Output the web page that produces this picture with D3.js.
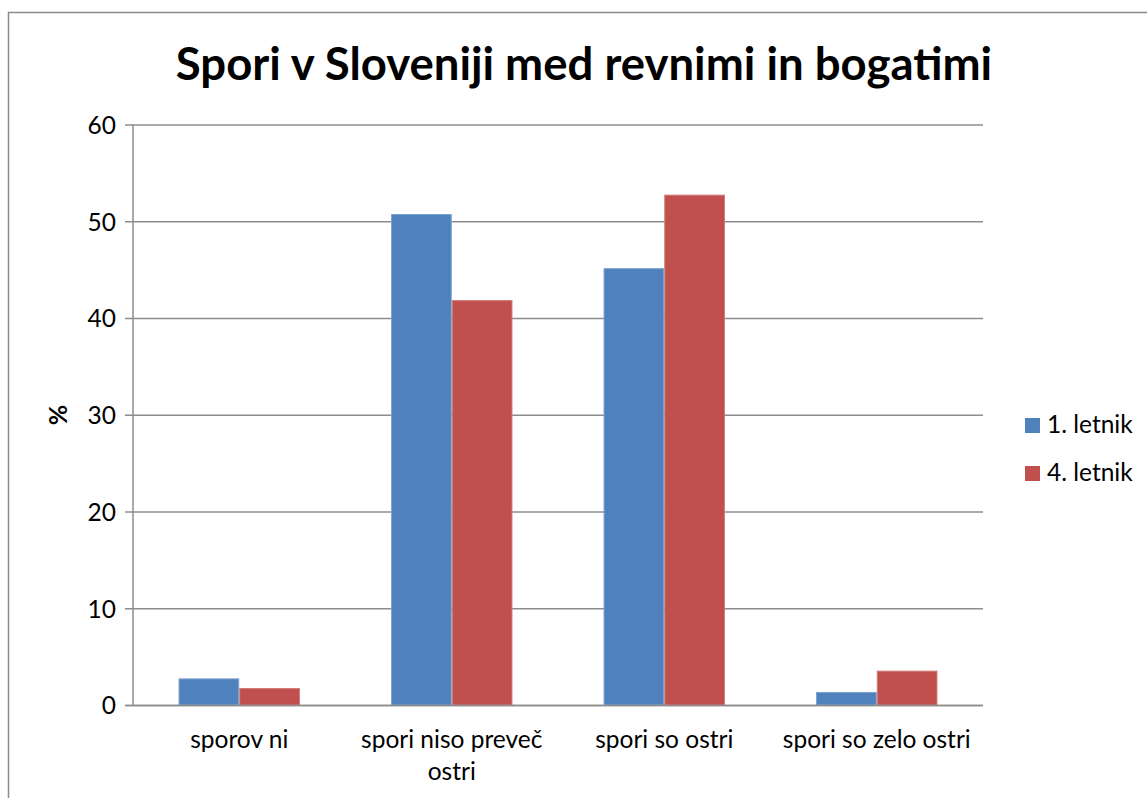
<!DOCTYPE html>
<html>
<head>
<meta charset="utf-8">
<script src="https://cdn.jsdelivr.net/npm/d3@7"></script>
<style>
  body { margin: 0; background: #fff; }
  text { font-family: Lato, 'Open Sans', sans-serif; fill: #000; }
</style>
</head>
<body>
<div id="chart"></div>
<script>
// data
var categories = ['sporov ni', 'spori niso preveč ostri', 'spori so ostri', 'spori so zelo ostri'];
var seriesNames = ['1. letnik', '4. letnik'];
var letnik1 = [2.7, 50.7, 45.1, 1.3];
var letnik4 = [1.7, 41.8, 52.7, 3.5];
var yTicks = [0, 10, 20, 30, 40, 50, 60];
var colors = ['#4F81BD', '#C0504D'];
var strokes = ['#7FA3CF', '#D37B78'];

const W = 1147, H = 798;
var margin = {top: 124.5, left: 133, right: 983, bottom: 705};
var fs = '24.5px';

var svg = d3.select('#chart').append('svg')
            .attr('width', W)
            .attr('height', H);

// chart border (runs off the right and bottom edge)
svg.append('rect')
   .attr('x', 8.5).attr('y', 12.5)
   .attr('width', W + 20).attr('height', H + 20)
   .attr('fill', 'none')
   .attr('stroke', '#8a8a8a')
   .attr('stroke-width', 1.5);

// title
svg.append('text')
   .attr('x', 584).attr('y', 80)
   .attr('text-anchor', 'middle')
   .style('font-size', '45.5px')
   .style('font-weight', 'bold')
   .text('Spori v Sloveniji med revnimi in bogatimi');

var y = d3.scaleLinear().domain([0, 60]).range([margin.bottom, margin.top]);
var x0 = d3.scaleBand().domain(categories).range([margin.left, margin.right]).padding(0);
var groupW = x0.bandwidth() * 2 / 3.5;
var x1 = d3.scaleBand().domain(seriesNames)
           .range([(x0.bandwidth() - groupW) / 2, (x0.bandwidth() + groupW) / 2]);

// gridlines + y ticks
var yAxis = d3.axisLeft(y).tickValues(yTicks).tickSize(-(margin.right - margin.left)).tickPadding(17).tickSizeOuter(0);
var gy = svg.append('g').attr('transform', `translate(${margin.left},0)`).call(yAxis);
gy.select('.domain').remove();
gy.selectAll('.tick line')
  .attr('x1', -8)
  .attr('stroke', '#8c8c8c')
  .attr('stroke-width', 1.5);
gy.selectAll('.tick text')
  .style('font-size', fs)
  .style('font-family', 'Lato, sans-serif')
  .attr('dy', '0.36em');

// y axis line
svg.append('line')
   .attr('x1', margin.left).attr('x2', margin.left)
   .attr('y1', margin.top).attr('y2', margin.bottom)
   .attr('stroke', '#8c8c8c').attr('stroke-width', 1.5);

// y axis title
svg.append('text')
   .attr('transform', `translate(67,415) rotate(-90)`)
   .attr('text-anchor', 'middle')
   .style('font-size', '25px')
   .style('font-weight', 'bold')
   .text('%');

// bars
var rows = categories.map((c, i) => ({cat: c, vals: [letnik1[i], letnik4[i]]}));
var groups = svg.selectAll('.grp')
                .data(rows)
                .enter().append('g')
                .attr('class', 'grp')
                .attr('transform', d => `translate(${x0(d.cat)},0)`);

groups.selectAll('rect')
      .data(d => d.vals.map((v, k) => ({name: seriesNames[k], v: v, k: k})))
      .enter().append('rect')
      .attr('x', d => x1(d.name) + 0.5)
      .attr('width', x1.bandwidth() - 1)
      .attr('y', d => y(d.v))
      .attr('height', d => y(0) - y(d.v))
      .attr('fill', d => colors[d.k])
      .attr('stroke', d => strokes[d.k])
      .attr('stroke-width', 1);

// x axis
var xAxis = d3.axisBottom(x0).tickSize(0).tickPadding(0);
var gx = svg.append('g').attr('transform', `translate(0,${margin.bottom})`).call(xAxis);
gx.select('.domain').attr('stroke', '#8c8c8c').attr('stroke-width', 1.5)
  .attr('d', `M${margin.left - 8},0.5H${margin.right}`);
gx.selectAll('.tick text')
  .style('font-size', fs)
  .style('font-family', 'Lato, sans-serif')
  .attr('dy', null)
  .attr('y', 43)
  .call(wrap, x0.bandwidth() - 8);

function wrap(sel, width) {
    sel.each(function() {
        var t = d3.select(this);
        var words = t.text().split(/\s+/);
        t.text(null);
        var line = [], lineNo = 0;
        var ts = t.append('tspan').attr('x', 0).attr('y', 43);
        words.forEach(w => {
            line.push(w);
            ts.text(line.join(' '));
            if (ts.node().getComputedTextLength() > width && line.length > 1) {
                line.pop();
                ts.text(line.join(' '));
                line = [w];
                lineNo++;
                ts = t.append('tspan').attr('x', 0).attr('y', 43 + lineNo * 32).text(w);
            }
        });
    });
}

// legend
var legend = svg.selectAll('.leg')
                .data(seriesNames)
                .enter().append('g')
                .attr('class', 'leg')
                .attr('transform', (d, i) => `translate(1025,${418 + i * 48})`);
legend.append('rect')
      .attr('width', 15).attr('height', 15)
      .attr('fill', (d, i) => colors[i]);
legend.append('text')
      .attr('x', 22).attr('y', 15)
      .style('font-size', fs)
      .text(d => d);
</script>
</body>
</html>
